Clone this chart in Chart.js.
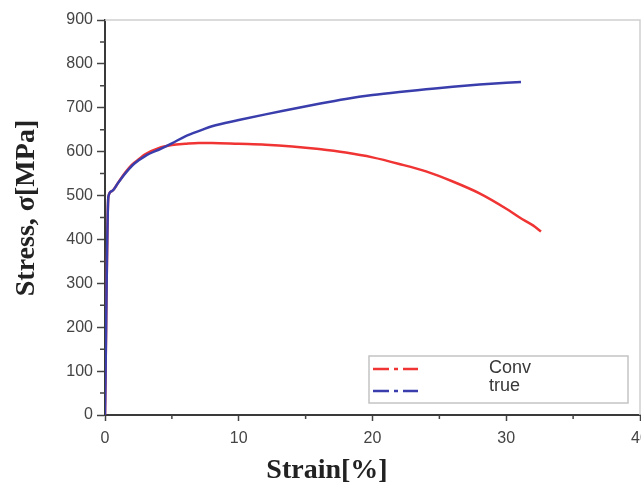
<!DOCTYPE html>
<html><head><meta charset="utf-8">
<script src="https://cdn.jsdelivr.net/npm/chart.js@4/dist/chart.umd.min.js"></script>
<style>
html,body{margin:0;padding:0;overflow:hidden;background:#fff}
#wrap{position:relative;width:660px;height:489px}
</style>
</head><body><div id="wrap"><canvas id="c"></canvas></div>
<script>
const seriesNames = ['Conv', 'true'];
const convStrain = [0, 0.25, 0.5, 1, 1.5, 2, 2.5, 3, 4, 5, 6, 7, 8, 10, 12, 14, 16, 18, 20, 22, 24, 26, 28, 30, 31, 32, 32.6];
const convStress = [0, 497, 510, 530, 552, 570, 582, 594, 608, 615, 618, 620, 620, 618, 616, 612, 606, 598, 587, 572, 555, 532, 505, 470, 450, 432, 418];
const trueStrain = [0, 0.25, 0.5, 1, 1.5, 2.2, 3, 4.2, 5, 6, 7.2, 8, 10, 12, 14, 16, 18, 20, 22, 24, 26, 28, 30, 31.1];
const trueStress = [0, 497, 510, 530, 550, 573, 590, 607, 619, 635, 649, 658, 672, 685, 697, 709, 720, 729, 736, 742, 748, 753, 757, 759];
const xTicks = [0, 10, 20, 30, 40];
const yTicks = [0, 100, 200, 300, 400, 500, 600, 700, 800, 900];
const xTitle = 'Strain[%]';
const yTitle = 'Stress, σ[MPa]';

const RED = 'rgb(240,52,52)';
const BLUE = 'rgb(58,62,172)';

function pts(xs, ys) { return xs.map((x, i) => ({x: x, y: ys[i]})); }

const framePlugin = {
  id: 'frame',
  afterDraw(chart) {
    const ctx = chart.ctx, a = chart.chartArea;
    const xs = chart.scales.x, ys = chart.scales.y;
    ctx.save();
    // light top/right frame
    ctx.strokeStyle = '#d0d0d0';
    ctx.lineWidth = 1.5;
    ctx.beginPath();
    ctx.moveTo(a.left, a.top); ctx.lineTo(a.right, a.top); ctx.lineTo(a.right, a.bottom);
    ctx.stroke();
    // minor ticks
    ctx.strokeStyle = '#444';
    ctx.lineWidth = 1.5;
    ctx.beginPath();
    for (let i = 0; i < yTicks.length - 1; i++) {
      const py = ys.getPixelForValue((yTicks[i] + yTicks[i + 1]) / 2);
      ctx.moveTo(a.left - 5, py); ctx.lineTo(a.left, py);
    }
    for (let i = 0; i < xTicks.length - 1; i++) {
      const px = xs.getPixelForValue((xTicks[i] + xTicks[i + 1]) / 2);
      ctx.moveTo(px, a.bottom); ctx.lineTo(px, a.bottom + 4);
    }
    ctx.stroke();
    // legend
    ctx.strokeStyle = '#c4c4c4';
    ctx.lineWidth = 1.5;
    ctx.strokeRect(369, 356, 259, 47);
    const rows = [369, 391];
    const textY = [368, 386];
    chart.data.datasets.forEach((ds, i) => {
      ctx.strokeStyle = ds.borderColor;
      ctx.lineWidth = 2.5;
      ctx.setLineDash([16, 5, 4, 5]);
      ctx.beginPath();
      ctx.moveTo(373, rows[i]); ctx.lineTo(418, rows[i]);
      ctx.stroke();
      ctx.setLineDash([]);
      ctx.fillStyle = '#383838';
      ctx.font = '18px "Liberation Sans", Arial, sans-serif';
      ctx.textBaseline = 'middle';
      ctx.textAlign = 'left';
      ctx.fillText(ds.label, 489, textY[i]);
    });
    // axis titles
    ctx.fillStyle = '#222';
    ctx.font = 'bold 28px "Liberation Serif", "Times New Roman", serif';
    ctx.textAlign = 'center';
    ctx.textBaseline = 'middle';
    ctx.fillText(xTitle, 327, 471);
    ctx.save();
    ctx.translate(27, 208);
    ctx.rotate(-Math.PI / 2);
    ctx.fillText(yTitle, 0, 0);
    ctx.restore();
    ctx.restore();
  }
};

new Chart(document.getElementById('c'), {
  type: 'scatter',
  data: {
    datasets: [
      {label: seriesNames[0], data: pts(convStrain, convStress), borderColor: RED, backgroundColor: RED, order: 2,
       showLine: true, pointRadius: 0, borderWidth: 2.5, cubicInterpolationMode: 'monotone'},
      {label: seriesNames[1], data: pts(trueStrain, trueStress), borderColor: BLUE, backgroundColor: BLUE, order: 1,
       showLine: true, pointRadius: 0, borderWidth: 2.5, cubicInterpolationMode: 'monotone'}
    ]
  },
  options: {
    responsive: true,
    maintainAspectRatio: false,
    animation: false,
    layout: {padding: {top: 20, right: 20, left: 0, bottom: 0}},
    plugins: {legend: {display: false}, tooltip: {enabled: false}},
    scales: {
      x: {
        type: 'linear', min: xTicks[0], max: xTicks[xTicks.length - 1],
        afterBuildTicks(s) { s.ticks = xTicks.map(v => ({value: v})); },
        afterFit(s) { s.height = 74; },
        ticks: {color: '#444', font: {family: '"Liberation Sans", Arial, sans-serif', size: 16}, padding: 8, maxRotation: 0},
        grid: {drawOnChartArea: false, drawTicks: true, tickLength: 6, tickColor: '#444', tickWidth: 1.5},
        border: {display: true, color: '#3a3a3a', width: 2}
      },
      y: {
        type: 'linear', min: yTicks[0], max: yTicks[yTicks.length - 1],
        afterBuildTicks(s) { s.ticks = yTicks.map(v => ({value: v})); },
        afterFit(s) { s.width = 105; },
        ticks: {color: '#444', font: {family: '"Liberation Sans", Arial, sans-serif', size: 16}, padding: 4},
        grid: {drawOnChartArea: false, drawTicks: true, tickLength: 8, tickColor: '#444', tickWidth: 1.5},
        border: {display: true, color: '#3a3a3a', width: 2}
      }
    }
  },
  plugins: [framePlugin]
});
</script>
</body></html>
